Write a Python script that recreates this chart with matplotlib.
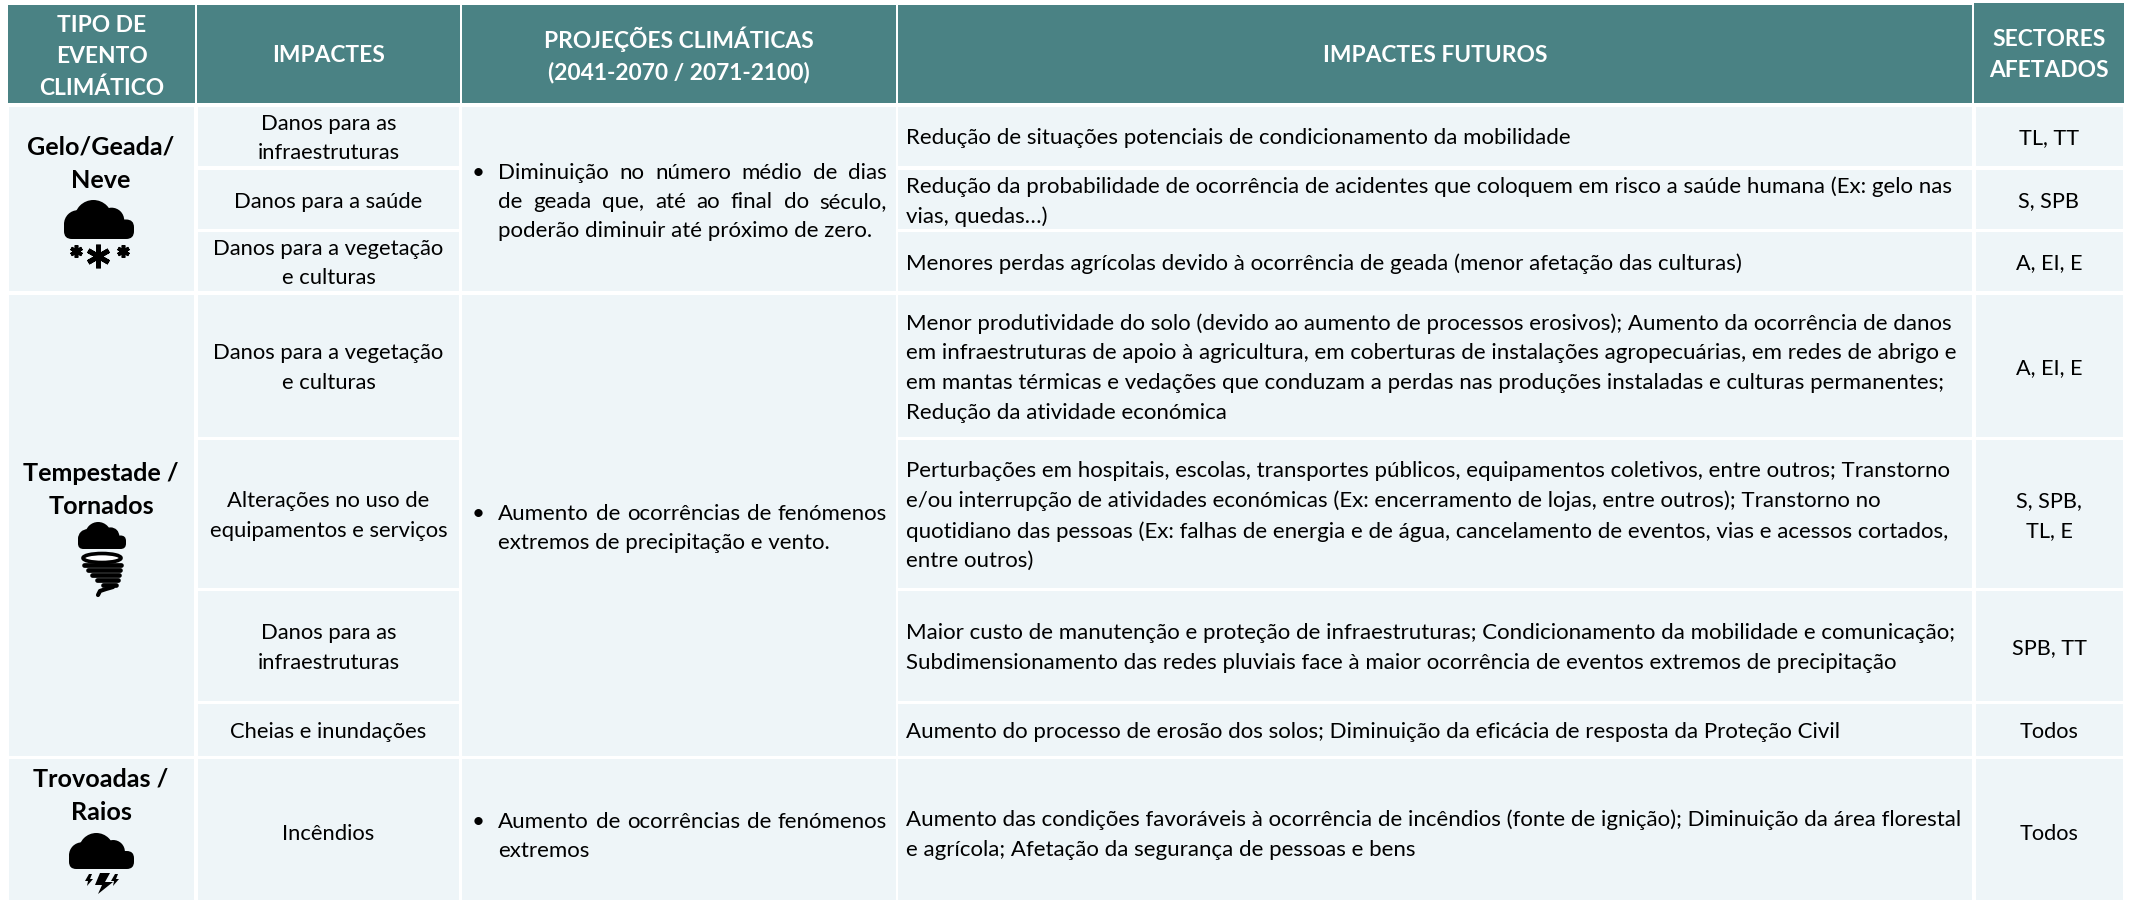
import matplotlib
matplotlib.use('Agg')
import matplotlib.pyplot as plt
from matplotlib.patches import Rectangle, Circle, Ellipse, FancyBboxPatch, Polygon

plt.rcParams['font.family'] = ['Lato', 'DejaVu Sans']

# table text
headers = ['TIPO DE\nEVENTO\nCLIMÁTICO', 'IMPACTES', 'PROJEÇÕES CLIMÁTICAS\n(2041-2070 / 2071-2100)',
           'IMPACTES FUTUROS', 'SECTORES\nAFETADOS']
events = ['Gelo/Geada/\nNeve', 'Tempestade /\nTornados', 'Trovoadas /\nRaios']
impacts = ['Danos para as\ninfraestruturas', 'Danos para a saúde', 'Danos para a vegetação\ne culturas',
           'Danos para a vegetação\ne culturas', 'Alterações no uso de\nequipamentos e serviços',
           'Danos para as\ninfraestruturas', 'Cheias e inundações', 'Incêndios']
projections = ['Diminuição no número médio de dias\nde geada que, até ao final do século,\npoderão diminuir até próximo de zero.',
               'Aumento de ocorrências de fenómenos\nextremos de precipitação e vento.',
               'Aumento de ocorrências de fenómenos\nextremos']
futures = ['Redução de situações potenciais de condicionamento da mobilidade',
           'Redução da probabilidade de ocorrência de acidentes que coloquem em risco a saúde humana (Ex: gelo nas\nvias, quedas…)',
           'Menores perdas agrícolas devido à ocorrência de geada (menor afetação das culturas)',
           'Menor produtividade do solo (devido ao aumento de processos erosivos); Aumento da ocorrência de danos\nem infraestruturas de apoio à agricultura, em coberturas de instalações agropecuárias, em redes de abrigo e\nem mantas térmicas e vedações que conduzam a perdas nas produções instaladas e culturas permanentes;\nRedução da atividade económica',
           'Perturbações em hospitais, escolas, transportes públicos, equipamentos coletivos, entre outros; Transtorno\ne/ou interrupção de atividades económicas (Ex: encerramento de lojas, entre outros); Transtorno no\nquotidiano das pessoas (Ex: falhas de energia e de água, cancelamento de eventos, vias e acessos cortados,\nentre outros)',
           'Maior custo de manutenção e proteção de infraestruturas; Condicionamento da mobilidade e comunicação;\nSubdimensionamento das redes pluviais face à maior ocorrência de eventos extremos de precipitação',
           'Aumento do processo de erosão dos solos; Diminuição da eficácia de resposta da Proteção Civil',
           'Aumento das condições favoráveis à ocorrência de incêndios (fonte de ignição); Diminuição da área florestal\ne agrícola; Afetação da segurança de pessoas e bens']
sectors = ['TL, TT', 'S, SPB', 'A, EI, E', 'A, EI, E', 'S, SPB,\nTL, E', 'SPB, TT', 'Todos', 'Todos']

HEAD = '#4a8284'
CELL = '#eef5f8'
FS_FUT = 16.05
FS_IMP = 15.85
FS_SEC = 15.6
LINE = 1.6
LINE_PX = 29.3
DY = 2  # small downward nudge, text sits a bit low in its cell

# layout in pixels
head_x = [(8, 195), (197, 460), (462, 896), (898, 1972), (1974, 2124)]
col_x = [(9, 194), (198, 459), (462, 896), (898, 1972), (1976, 2123)]
row_y = [(107, 166), (170, 229), (232, 291), (295, 437), (440, 588), (591, 701), (704, 756), (759, 900)]
groups = [(0, 2), (3, 6), (7, 7)]

fig = plt.figure(figsize=(21.29, 9), dpi=100)
ax = fig.add_axes([0, 0, 1, 1])
ax.set_xlim(0, 2129)
ax.set_ylim(900, 0)
ax.axis('off')
renderer = fig.canvas.get_renderer()


def cell(x0, x1, y0, y1, color):
    ax.add_patch(Rectangle((x0, y0), x1 - x0, y1 - y0, fc=color, ec='none'))


def cloud(x0, x1, y0, y1):
    w = x1 - x0
    h = y1 - y0
    r = 0.27 * w
    ax.add_patch(Circle((x0 + 0.42 * w, y0 + r), r, fc='black', ec='none'))
    ax.add_patch(Circle((x0 + 0.68 * w, y0 + 0.52 * h), 0.18 * w, fc='black', ec='none'))
    ax.add_patch(Circle((x0 + 0.2 * w, y0 + 0.62 * h), 0.2 * w, fc='black', ec='none'))
    pad = 0.2 * h
    ax.add_patch(FancyBboxPatch((x0 + pad, y0 + 0.5 * h + pad), w - 2 * pad, 0.5 * h - 2 * pad,
                                boxstyle='round,pad=%f' % pad, fc='black', ec='none'))


def justified(line, x0, x1, y, size):
    # words placed one by one so the line ends on the right edge of the column
    words = line.split(' ')
    items = [ax.text(x0, y, w, fontsize=size, ha='left', va='baseline') for w in words]
    widths = [t.get_window_extent(renderer).width for t in items]
    gap = (x1 - x0 - sum(widths)) / (len(words) - 1)
    x = x0
    for t, w in zip(items, widths):
        t.set_x(x)
        x += w + gap


# header
for (x0, x1), label in zip(head_x, headers):
    top = 3 if x0 == 1974 else 5
    cell(x0, x1, top, 103, HEAD)
    yc = 57 if label.count('\n') == 2 else 55
    ax.text((x0 + x1) / 2, yc, label, color='white', fontsize=16.4, fontweight='bold',
            ha='center', va='center', linespacing=1.58)

# merged cells for event and projection columns
for (a, b), proj, off in zip(groups, projections, [3, 3, 7]):
    y0, y1 = row_y[a][0], row_y[b][1]
    cell(*col_x[0], y0, y1, CELL)
    cell(*col_x[2], y0, y1, CELL)
    ym = (y0 + y1) / 2 + off
    lines = proj.split('\n')
    for i, line in enumerate(lines):
        base = ym + (i - (len(lines) - 1) / 2) * LINE_PX + 6
        if i == 0:
            ax.text(478, base, '•', fontsize=FS_FUT, ha='center', va='baseline')
        if i < len(lines) - 1:
            justified(line, 498, 887, base, FS_FUT)
        else:
            ax.text(498, base, line, fontsize=FS_FUT, ha='left', va='baseline')

# per-row cells
for (y0, y1), imp, fut, sec in zip(row_y, impacts, futures, sectors):
    ym = (y0 + y1) / 2 + DY
    if y1 == 900:
        ym += 3  # last row is cut off by the picture edge
    cell(*col_x[1], y0, y1, CELL)
    cell(*col_x[3], y0, y1, CELL)
    cell(*col_x[4], y0, y1, CELL)
    ax.text(328.5, ym, imp, fontsize=FS_IMP, ha='center', va='center', linespacing=LINE)
    ax.text(906, ym, fut, fontsize=FS_FUT, ha='left', va='center', linespacing=LINE)
    ax.text(2049, ym, sec, fontsize=FS_SEC, ha='center', va='center', linespacing=LINE)

# event names
for ev, yc in zip(events, [164, 490, 796]):
    ax.text(101, yc, ev, fontsize=18.1, fontweight='bold', ha='center', va='center', linespacing=1.53)

# snow icon
cloud(64, 134, 200, 239)
ax.plot([76, 123], [251, 251], ls='none', marker=(6, 2, 0), ms=9, mew=2.6, color='black')
ax.plot([98], [256], ls='none', marker=(6, 2, 0), ms=17, mew=3.5, color='black')

# tornado icon
cloud(78, 126, 522, 549)
ax.add_patch(Ellipse((102, 558), 38, 9, fc='white', ec='black', lw=2.6))
bands = [(84, 121, 565), (88, 120, 570), (92, 119, 575), (97, 118, 580), (103, 116, 585)]
for x0, x1, y in bands:
    ax.plot([x0, x1], [y, y], color='black', lw=3.4, solid_capstyle='round')
ax.plot([113, 106, 100, 98], [587, 589, 591, 595], color='black', lw=3, solid_capstyle='round')

# thunder icon
cloud(69, 134, 833, 869)
ax.add_patch(Polygon([(100, 873), (110, 873), (105, 882), (113, 882), (98, 894), (102, 885), (95, 885)], fc='black', ec='none'))
ax.add_patch(Polygon([(89, 874), (92, 874), (90, 879), (93, 879), (87, 886), (88, 881), (85, 881)], fc='black', ec='none'))
ax.add_patch(Polygon([(115, 874), (118, 874), (116, 879), (119, 879), (113, 886), (114, 881), (111, 881)], fc='black', ec='none'))

fig.savefig('out.png', dpi=100)
